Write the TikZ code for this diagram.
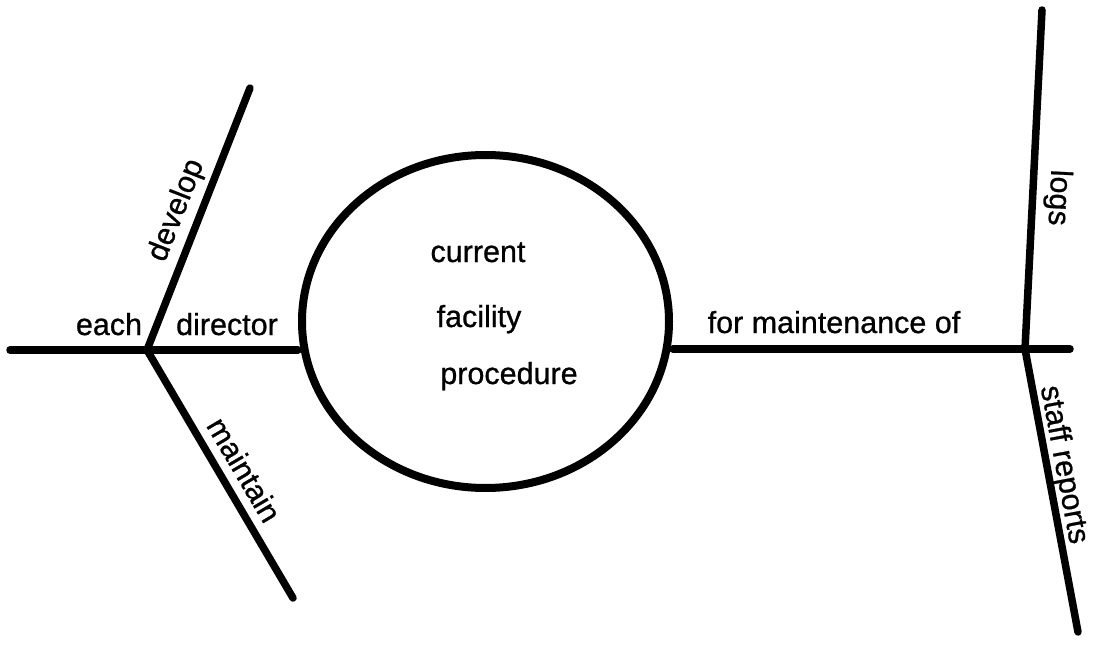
\documentclass[tikz,border=0pt]{standalone}
\usepackage{fontspec}
\setmainfont[FakeBold=0.8]{Liberation Sans}
\usetikzlibrary{shapes.geometric}
\begin{document}
\begin{tikzpicture}[x={(1pt,0pt)}, y={(0pt,-1pt)},
  stroke/.style={line width=7.5pt, line cap=round, line join=round},
  lbl/.style={font=\fontsize{30.5}{36}\selectfont, inner sep=0pt, outer sep=0pt},
  ]
\useasboundingbox (0,0) rectangle (1093,663);
\node[draw, ellipse, line width=8pt, minimum width=367pt, minimum height=333pt, inner sep=0pt] (c) at (485.5,321.5) {};
\coordinate (lend) at (10,350);
\coordinate (lb) at (147,350);
\coordinate (dev) at (250,88);
\coordinate (mnt) at (293,598);
\coordinate (rb) at (1025,349);
\coordinate (rend) at (1070,349);
\coordinate (logsend) at (1042,10);
\coordinate (staffend) at (1078,632);
% left structure
\draw[stroke] (lend) -- (lb);
\draw[stroke] (lb) -- (lb -| c.west);
\draw[stroke] (lb) -- node[lbl, sloped, above=9pt, pos=0.5] (develop) {develop} (dev);
\draw[stroke] (lb) -- node[lbl, sloped, above=12pt, pos=0.53] (maintain) {maintain} (mnt);
% right structure
\draw[stroke] (rb -| c.east) -- (rb);
\draw[stroke] (rb) -- (rend);
\draw[stroke] (logsend) -- node[lbl, sloped, allow upside down, above=11pt, pos=0.55] (logs) {logs} (rb);
\draw[stroke] (rb) -- node[lbl, sloped, above=2pt, pos=0.42] (staff) {staff reports} (staffend);
% labels on horizontal lines
\node[lbl, anchor=base] (each) at (109,335) {each};
\node[lbl, anchor=base] (director) at (227,335) {director};
\node[lbl, anchor=base] (formaint) at (834,333) {for maintenance of};
% texts in circle
\node[lbl, anchor=base] (current) at (478,262) {current};
\node[lbl, anchor=base] (facility) at (479,327) {facility};
\node[lbl, anchor=base] (procedure) at (509,384) {procedure};
\end{tikzpicture}
\end{document}
